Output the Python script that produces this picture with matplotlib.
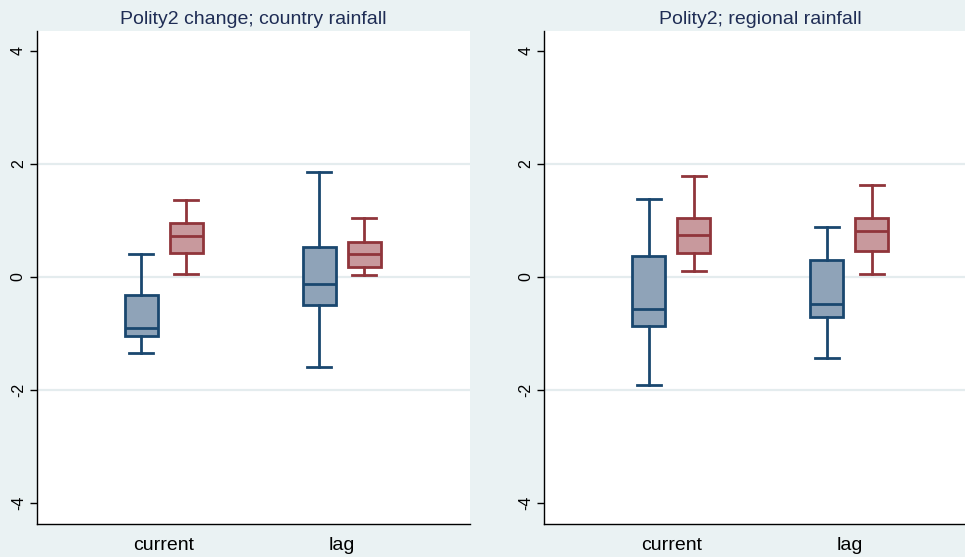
import matplotlib
matplotlib.use("Agg")
import matplotlib.pyplot as plt

plt.rcParams['font.family'] = ['Liberation Sans', 'DejaVu Sans']

# box summaries: whisker low, q1, median, q3, whisker high
titles = ["Polity2 change; country rainfall", "Polity2; regional rainfall"]
groups = ["current", "lag"]

country_blue = [(-1.35, -1.05, -0.90, -0.32, 0.40), (-1.59, -0.50, -0.13, 0.53, 1.85)]
country_red = [(0.05, 0.43, 0.72, 0.96, 1.36), (0.03, 0.18, 0.40, 0.62, 1.04)]
regional_blue = [(-1.91, -0.87, -0.56, 0.37, 1.38), (-1.43, -0.71, -0.47, 0.30, 0.88)]
regional_red = [(0.11, 0.43, 0.75, 1.04, 1.78), (0.06, 0.46, 0.81, 1.04, 1.62)]

yticks = [-4, -2, 0, 2, 4]
gridticks = [-2, 0, 2]

bg = '#eaf2f3'
blue_edge, blue_fill = '#1a476f', '#8fa3b8'
red_edge, red_fill = '#90353b', '#c8999d'
lw = 2.0


def stats(rows):
    return [dict(whislo=a, q1=b, med=c, q3=d, whishi=e, fliers=[]) for a, b, c, d, e in rows]


def draw(ax, blue, red, title):
    ax.set_facecolor('white')
    for g in gridticks:
        ax.axhline(g, color='#e4ecee', lw=1.6, zorder=0)
    off = 0.1264
    for rows, sign, ec, fc in [(blue, -1, blue_edge, blue_fill), (red, 1, red_edge, red_fill)]:
        pos = [i + 1 + sign * off for i in range(len(rows))]
        ax.bxp(stats(rows), positions=pos, widths=0.185, capwidths=0.135,
               showfliers=False, patch_artist=True,
               boxprops=dict(facecolor=fc, edgecolor=ec, linewidth=lw),
               medianprops=dict(color=ec, linewidth=lw),
               whiskerprops=dict(color=ec, linewidth=lw),
               capprops=dict(color=ec, linewidth=lw))
    ax.set_xlim(0.285, 2.72)
    ax.set_ylim(-4.37, 4.35)
    ax.set_xticks([1, 2])
    ax.set_xticklabels(groups, fontsize=14)
    ax.tick_params(axis='x', length=0, pad=9)
    ax.set_yticks(yticks)
    ax.set_yticklabels([str(t) for t in yticks], rotation=90, va='center', fontsize=11.5)
    ax.tick_params(axis='y', length=5.2, width=1, pad=2.5)
    ax.spines['top'].set_visible(False)
    ax.spines['right'].set_visible(False)
    ax.spines['left'].set_linewidth(1)
    ax.spines['bottom'].set_linewidth(1)
    ax.set_title(title, fontsize=14, color='#1f2d55', pad=5)


fig = plt.figure(figsize=(9.65, 5.57), dpi=100, facecolor=bg)
ax1 = fig.add_axes([36.5 / 965, 33 / 557, 433.5 / 965, 493 / 557])
ax2 = fig.add_axes([544 / 965, 33 / 557, 433.5 / 965, 493 / 557])
draw(ax1, country_blue, country_red, titles[0])
draw(ax2, regional_blue, regional_red, titles[1])

fig.savefig('out.png', dpi=100, facecolor=bg)
